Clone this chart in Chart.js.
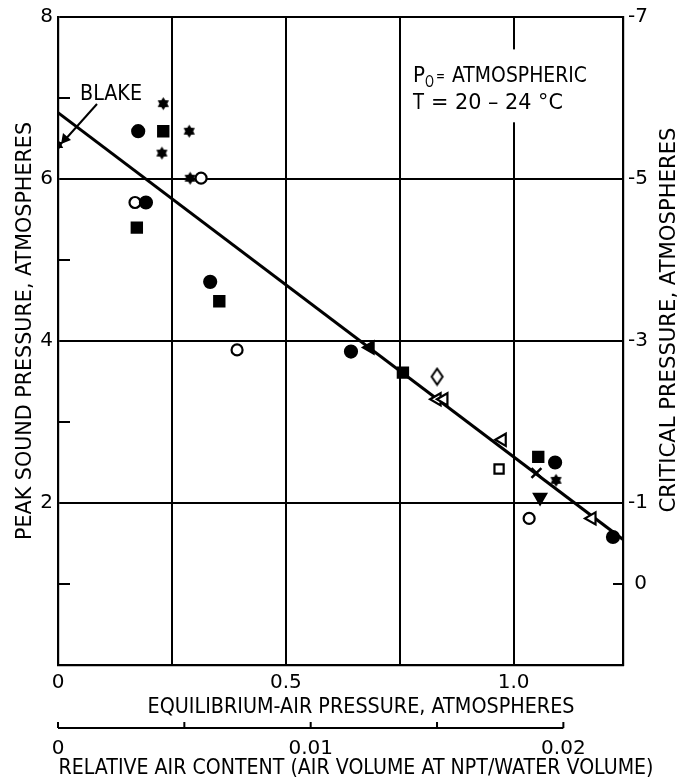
<!DOCTYPE html>
<html>
<head>
<meta charset="utf-8">
<script src="https://cdn.jsdelivr.net/npm/chart.js@4.4.1/dist/chart.umd.min.js"></script>
<style>
  html, body { margin: 0; padding: 0; background: #fff; }
  #wrap { width: 679px; height: 782px; }
</style>
</head>
<body>
<div id="wrap"><canvas id="chart" width="679" height="782"></canvas></div>
<script>
// points: [equilibrium-air pressure (atm), peak sound pressure (atm)]
const filledCircles = [[0.176, 6.59], [0.193, 5.71], [0.334, 4.73], [0.643, 3.87], [1.091, 2.50], [1.218, 1.58]];
const openCircles = [[0.169, 5.71], [0.314, 6.01], [0.393, 3.89], [1.034, 1.81]];
const filledSquares = [[0.231, 6.59], [0.173, 5.40], [0.354, 4.49], [0.757, 3.61], [1.054, 2.57]];
const openSquares = [[0.968, 2.42]];
const filledStars = [[0.231, 6.93], [0.228, 6.32], [0.288, 6.59], [0.290, 6.01], [1.093, 2.28]];
const openTriangles = [[0.832, 3.28], [0.847, 3.28], [0.975, 2.78], [1.172, 1.81]];
const filledTriangles = [[0.685, 3.92]];
const downTriangles = [[1.058, 2.07]];
const openDiamonds = [[0.832, 3.56]];
const crosses = [[1.050, 2.37]];
const blakePoint = [[0, 6.42]];
const fitLine = [[0, 6.82], [1.24, 1.55]];

// axis ticks
const pressureTicks = [0, 0.5, 1.0];
const airContentTicks = [0, 0.01, 0.02];
const peakTicks = [2, 4, 6, 8];
const peakMinorTicks = [1, 3, 5, 7];
const criticalTicks = [-7, -5, -3, -1, 0];

const FONT = '"DejaVu Sans", Arial, sans-serif';
const CLEAR = 'rgba(0,0,0,0)';

const pts = arr => arr.map(([x, y]) => ({ x, y }));

// filled six-point star used for several symbols
function starCanvas(r) {
    const s = Math.ceil(r * 2 + 2);
    const c = document.createElement('canvas');
    c.width = c.height = s;
    const g = c.getContext('2d');
    g.fillStyle = '#000';
    g.beginPath();
    for (let i = 0; i < 12; i++) {
        const a = -Math.PI / 2 + i * Math.PI / 6;
        const rr = i % 2 ? r * 0.6 : r;
        g.lineTo(s / 2 + rr * Math.cos(a), s / 2 + rr * Math.sin(a));
    }
    g.closePath();
    g.fill();
    return c;
}

// open tall diamond
function diamondCanvas(w, h) {
    const c = document.createElement('canvas');
    c.width = w + 4; c.height = h + 4;
    const g = c.getContext('2d');
    g.strokeStyle = '#000';
    g.lineWidth = 2;
    g.fillStyle = '#fff';
    g.beginPath();
    g.moveTo(c.width / 2, 2);
    g.lineTo(c.width - 2, c.height / 2);
    g.lineTo(c.width / 2, c.height - 2);
    g.lineTo(2, c.height / 2);
    g.closePath();
    g.fill();
    g.stroke();
    return c;
}

function marks(data, style, extra) {
    return Object.assign({
        type: 'scatter',
        data: pts(data),
        pointStyle: style,
        pointRadius: 6,
        pointBorderWidth: 2.2,
        pointBackgroundColor: '#000',
        pointBorderColor: '#000',
        order: 0
    }, extra || {});
}

// condensed lettering: draw tall text squeezed to a given width
function squeezed(ctx, text, px, py, width, size, align, angle) {
    ctx.save();
    ctx.font = size + 'px ' + FONT;
    const k = width / ctx.measureText(text).width;
    ctx.translate(px, py);
    if (angle) ctx.rotate(angle);
    ctx.scale(k, 1);
    ctx.textAlign = align;
    ctx.fillText(text, 0, 0);
    ctx.restore();
}

const decor = {
    id: 'decor',
    beforeDatasetsDraw(chart) {
        const { ctx, chartArea, scales: { x, y, y2, x2 } } = chart;
        ctx.save();
        // blank patch behind the note
        const l = x.getPixelForValue(0.765), r = x.getPixelForValue(1.18);
        const t = y.getPixelForValue(7.6), b = y.getPixelForValue(6.7);
        ctx.fillStyle = '#fff';
        ctx.fillRect(l, t, r - l, b - t);

        ctx.strokeStyle = '#000';
        ctx.lineWidth = 2;
        ctx.beginPath();
        peakMinorTicks.forEach(v => {
            const py = y.getPixelForValue(v);
            ctx.moveTo(chartArea.left, py);
            ctx.lineTo(chartArea.left + 12, py);
        });
        const p0 = y2.getPixelForValue(0);
        ctx.moveTo(chartArea.right - 10, p0);
        ctx.lineTo(chartArea.right, p0);
        ctx.stroke();

        // second x axis: line with upward ticks
        const a0 = x2.getPixelForValue(0), a1 = x2.getPixelForValue(0.02);
        const ay = x2.top;
        ctx.beginPath();
        ctx.moveTo(a0, ay);
        ctx.lineTo(a1, ay);
        for (let v = 0; v <= 0.02 + 1e-9; v += 0.005) {
            const px = x2.getPixelForValue(v);
            ctx.moveTo(px, ay);
            ctx.lineTo(px, ay - 6);
        }
        ctx.stroke();
        ctx.restore();
    },
    afterDraw(chart) {
        const { ctx, scales: { x, y } } = chart;
        ctx.save();
        ctx.fillStyle = '#000';
        ctx.strokeStyle = '#000';
        ctx.textBaseline = 'middle';

        // axis titles
        squeezed(ctx, 'EQUILIBRIUM-AIR PRESSURE, ATMOSPHERES', 361, 707, 427, 22, 'center');
        squeezed(ctx, 'RELATIVE AIR CONTENT (AIR VOLUME AT NPT/WATER VOLUME)', 356, 768, 595, 22, 'center');
        squeezed(ctx, 'PEAK SOUND PRESSURE, ATMOSPHERES', 25, 331, 418, 22, 'center', -Math.PI / 2);
        squeezed(ctx, 'CRITICAL PRESSURE, ATMOSPHERES', 669, 320, 385, 22, 'center', -Math.PI / 2);

        // note
        ctx.textBaseline = 'alphabetic';
        const nx = x.getPixelForValue(0.779);
        const ny1 = y.getPixelForValue(7.2);
        const ny2 = y.getPixelForValue(6.86);
        squeezed(ctx, 'P', nx, ny1, 12, 21, 'left');
        squeezed(ctx, 'O', nx + 12, ny1 + 5, 9, 15, 'left');
        squeezed(ctx, '=', nx + 23, ny1 - 1, 9, 16, 'left');
        squeezed(ctx, 'ATMOSPHERIC', nx + 39, ny1, 135, 21, 'left');
        squeezed(ctx, 'T', nx, ny2, 11, 21, 'left');
        squeezed(ctx, '= 20 \u2013 24 \u00B0C', nx + 18, ny2, 132, 21, 'left');

        // Blake label and arrow
        squeezed(ctx, 'BLAKE', 80, 100, 62, 21, 'left');
        ctx.lineWidth = 2;
        ctx.beginPath();
        ctx.moveTo(97, 104);
        ctx.lineTo(63, 142);
        ctx.stroke();
        ctx.beginPath();
        ctx.moveTo(61, 144);
        ctx.lineTo(63, 133);
        ctx.lineTo(71, 140);
        ctx.closePath();
        ctx.fill();
        ctx.restore();
    }
};

const tickFont = { family: FONT, size: 20 };

new Chart(document.getElementById('chart'), {
    type: 'scatter',
    data: {
        datasets: [
            {
                type: 'line',
                data: pts(fitLine),
                borderColor: '#000',
                borderWidth: 3,
                pointRadius: 0,
                fill: false,
                order: 10
            },
            marks(filledCircles, 'circle'),
            marks(openCircles, 'circle', { pointRadius: 5.5, pointBackgroundColor: '#fff' }),
            marks(filledSquares, 'rect', { pointRadius: 7.2 }),
            marks(openSquares, 'rect', { pointRadius: 6.5, pointBackgroundColor: '#fff' }),
            marks(filledStars, starCanvas(6.5)),
            marks(openTriangles, 'triangle', { pointRadius: 7, pointRotation: -90, pointBackgroundColor: '#fff' }),
            marks(filledTriangles, 'triangle', { pointRadius: 7, pointRotation: -90 }),
            marks(downTriangles, 'triangle', { pointRadius: 7, pointRotation: 180 }),
            marks(openDiamonds, diamondCanvas(11, 16)),
            marks(crosses, 'crossRot', { pointRadius: 7, pointBorderWidth: 2.5 }),
            marks(blakePoint, starCanvas(6))
        ]
    },
    options: {
        responsive: false,
        animation: false,
        devicePixelRatio: 1,
        layout: { padding: { top: 17, right: 0, bottom: 0, left: 0 } },
        plugins: { legend: { display: false }, tooltip: { enabled: false } },
        scales: {
            x: {
                type: 'linear',
                position: 'bottom',
                weight: 0,
                min: 0,
                max: 1.24,
                ticks: {
                    stepSize: 0.25,
                    includeBounds: false,
                    autoSkip: false,
                    maxRotation: 0,
                    padding: 6,
                    color: '#000',
                    font: tickFont,
                    callback: v => pressureTicks.includes(v) ? (v === 0 ? '0' : v.toFixed(1)) : ''
                },
                grid: {
                    drawTicks: false,
                    lineWidth: 2,
                    color: c => (c.tick && c.tick.value > 0) ? '#000' : CLEAR
                },
                border: { color: '#000', width: 2.2 },
                afterFit: s => { s.height = 63; }
            },
            x2: {
                type: 'linear',
                position: 'bottom',
                weight: 1,
                min: 0,
                max: 0.02236,
                ticks: {
                    stepSize: 0.005,
                    includeBounds: false,
                    autoSkip: false,
                    maxRotation: 0,
                    padding: 9,
                    color: '#000',
                    font: tickFont,
                    callback: v => airContentTicks.includes(v) ? String(v) : ''
                },
                grid: { display: false, drawTicks: false },
                border: { display: false },
                afterFit: s => { s.height = 54; }
            },
            y: {
                type: 'linear',
                position: 'left',
                min: 0,
                max: 8,
                ticks: {
                    stepSize: 1,
                    autoSkip: false,
                    padding: 5,
                    color: '#000',
                    font: tickFont,
                    callback: v => peakTicks.includes(v) ? String(v) : ''
                },
                grid: {
                    drawTicks: false,
                    lineWidth: 2,
                    color: c => (c.tick && peakTicks.includes(c.tick.value)) ? '#000' : CLEAR
                },
                border: { color: '#000', width: 2.2 },
                afterFit: s => { s.width = 58; }
            },
            y2: {
                type: 'linear',
                position: 'right',
                min: -7,
                max: 1,
                reverse: true,
                ticks: {
                    stepSize: 1,
                    autoSkip: false,
                    padding: 5,
                    color: '#000',
                    font: tickFont,
                    callback: v => criticalTicks.includes(v) ? (v === 0 ? ' 0' : String(v)) : ''
                },
                grid: { display: false, drawTicks: false },
                border: { color: '#000', width: 2.2 },
                afterFit: s => { s.width = 56; }
            }
        }
    },
    plugins: [decor]
});
</script>
</body>
</html>
